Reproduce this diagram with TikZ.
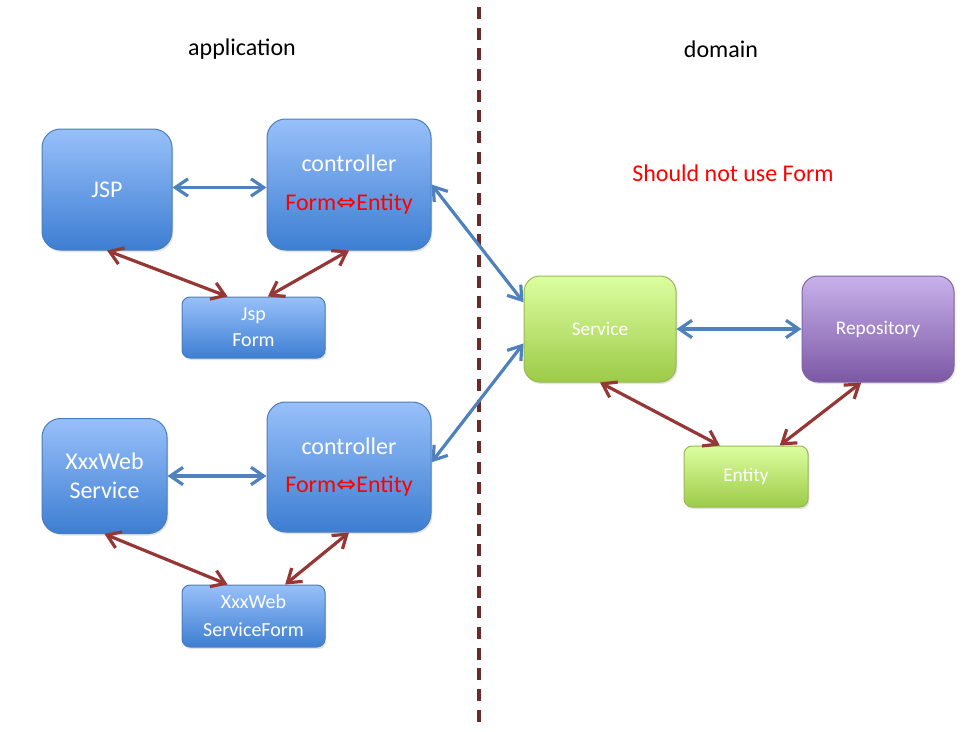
\documentclass[tikz,border=0pt]{standalone}
\usepackage{fontspec}
\setmainfont{Carlito}
\newfontfamily\symfont{DejaVu Sans}
\usetikzlibrary{arrows.meta,shadows,calc}
\definecolor{bTop}{HTML}{98C0FA}
\definecolor{bBot}{HTML}{3D7ED2}
\definecolor{bLine}{HTML}{4A7EBB}
\definecolor{gTop}{HTML}{DCFEA0}
\definecolor{gBot}{HTML}{9DCB48}
\definecolor{gLine}{HTML}{98B954}
\definecolor{pTop}{HTML}{C8B2EB}
\definecolor{pBot}{HTML}{7C58A5}
\definecolor{pLine}{HTML}{8064A2}
\definecolor{arBlue}{HTML}{4F81BD}
\definecolor{arRed}{HTML}{953735}
\definecolor{divLine}{HTML}{6B2A2A}
\newcommand{\dbl}{{\symfont\fontsize{18}{18}\selectfont ⇔}}
\tikzset{
  boxbase/.style={draw, line width=0.75pt, text=white, align=center, inner sep=0pt,
    drop shadow={opacity=0.22, shadow xshift=1pt, shadow yshift=-1.5pt}},
  bluebox/.style={boxbase, draw=bLine, top color=bTop, bottom color=bBot},
  greenbox/.style={boxbase, draw=gLine, top color=gTop, bottom color=gBot},
  purplebox/.style={boxbase, draw=pLine, top color=pTop, bottom color=pBot},
  big/.style={font=\fontsize{18}{22}\selectfont},
  small/.style={font=\fontsize{14.5}{19.5}\selectfont},
  tipb/.tip={Straight Barb[length=9.5pt,width=13pt]},
  barrow/.style={draw=arBlue, line width=2.4pt, tipb-tipb},
  rarrow/.style={draw=arRed, line width=2.4pt, tipb-tipb},
  heading/.style={font=\fontsize{18}{22}\selectfont, text=black},
}
\begin{document}
\begin{tikzpicture}[x=0.75pt, y=-0.75pt]
\path[use as bounding box] (0,0) rectangle (972,732);

% headings
\node[heading] (app) at (242,49) {application};
\node[heading] (dom) at (721,49) {domain};
\node[font=\fontsize{18}{22}\selectfont, text=red] (warn) at (733,173) {Should not use Form};

% divider
\coordinate (dtop) at (479,7);
\coordinate (dbot) at (479,722);
\draw[divLine, line width=2.3pt, dash pattern=on 9pt off 6.5pt] (dtop) -- (dbot);

% application boxes
\node[bluebox, big, rounded corners=14pt, minimum width={130*0.75pt}, minimum height={121*0.75pt}] (jsp) at (107,189.5) {JSP};
\node[bluebox, rounded corners=14pt, minimum width={164*0.75pt}, minimum height={131*0.75pt},
      font=\fontsize{18}{29}\selectfont] (c1) at (349,184.5) {controller\\\textcolor{red}{Form\dbl Entity}};
\node[bluebox, rounded corners=6pt, minimum width={143*0.75pt}, minimum height={61*0.75pt},
      font=\fontsize{15}{19.5}\selectfont] (jf) at (253.5,327.5) {Jsp\\Form};

\node[bluebox, rounded corners=14pt, minimum width={125*0.75pt}, minimum height={115*0.75pt},
      font=\fontsize{18}{22}\selectfont] (xws) at (104.5,476) {XxxWeb\\Service};
\node[bluebox, rounded corners=14pt, minimum width={164*0.75pt}, minimum height={130*0.75pt},
      font=\fontsize{18}{28}\selectfont] (c2) at (349,467) {controller\\\textcolor{red}{Form\dbl Entity}};
\node[bluebox, rounded corners=6pt, minimum width={143*0.75pt}, minimum height={62*0.75pt},
      font=\fontsize{15}{21}\selectfont] (xf) at (253.5,616) {XxxWeb\\ServiceForm};

% domain boxes
\node[greenbox, small, rounded corners=12pt, minimum width={152*0.75pt}, minimum height={106*0.75pt}] (svc) at (600,329) {Service};
\node[purplebox, small, rounded corners=12pt, minimum width={152*0.75pt}, minimum height={106*0.75pt}] (repo) at (878,329) {Repository};
\node[greenbox, small, rounded corners=6pt, minimum width={124*0.75pt}, minimum height={61*0.75pt}] (ent) at (746,476.5) {Entity};

% blue connectors
\draw[barrow] ([yshift=1.5pt]jsp.east) -- ([yshift=1.5pt]jsp.east -| c1.west);
\draw[barrow] (xws.east) -- (xws.east -| c2.west);
\draw[barrow] (c1.east) -- ($(svc.west)!0.5!(svc.north west)$);
\draw[barrow] ([yshift=3.5pt]c2.east) -- ($(svc.west)!0.27!(svc.south west)$);
\draw[barrow] (svc.east) -- (repo.west);

% red connectors
\draw[rarrow] (jsp.south) -- ($(jf.north west)!0.32!(jf.north east)$);
\draw[rarrow] (c1.south) -- ($(jf.north west)!0.6!(jf.north east)$);
\draw[rarrow] (xws.south) -- ($(xf.north west)!0.32!(xf.north east)$);
\draw[rarrow] (c2.south) -- ($(xf.north west)!0.72!(xf.north east)$);
\draw[rarrow] (svc.south) -- ($(ent.north west)!0.29!(ent.north east)$);
\draw[rarrow] ($(repo.south west)!0.39!(repo.south east)$) -- ($(ent.north west)!0.77!(ent.north east)$);
\end{tikzpicture}
\end{document}
